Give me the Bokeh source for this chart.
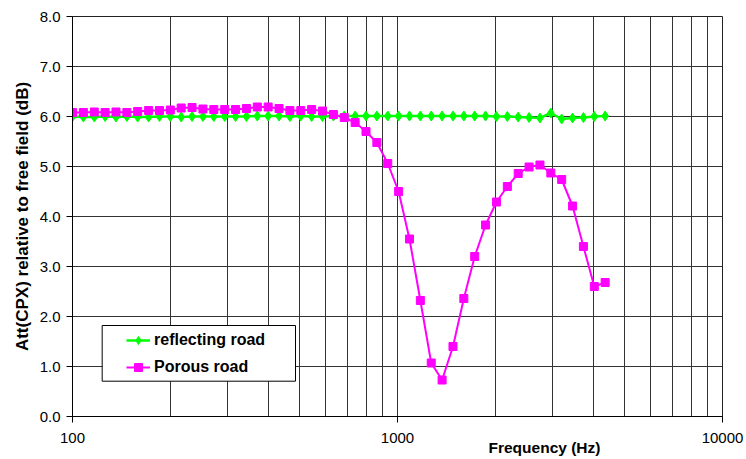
from bokeh.plotting import figure
from bokeh.models import (Range1d, FixedTicker, BasicTickFormatter, NumeralTickFormatter,
                          Legend, LegendItem, BoxAnnotation, Title)
from bokeh.embed import file_html
from bokeh.resources import INLINE

# --- data (1/9-octave frequencies) ---
freq = [100, 108, 116.7, 126, 136.1, 147, 158.7, 171.5, 185.2, 200,
        216, 233.3, 252, 272.2, 294, 317.5, 343, 370.4, 400, 432,
        466.6, 504, 544.3, 587.9, 635, 685.8, 740.8, 800, 864, 933.3,
        1008, 1088.7, 1175.9, 1270, 1371.7, 1481.6, 1600, 1728, 1866.4, 2016,
        2177.4, 2351.8, 2540.2, 2743.6, 2963.2, 3200, 3456.3, 3733, 4032, 4354.9]

reflecting = [6.00, 5.99, 5.99, 6.00, 5.99, 6.00, 5.99, 5.99, 6.00, 6.00,
              5.99, 6.00, 6.00, 6.00, 6.00, 6.00, 6.00, 6.01, 6.01, 6.01,
              6.00, 6.01, 6.00, 6.00, 6.01, 6.01, 6.01, 6.01, 6.01, 6.01,
              6.01, 6.01, 6.01, 6.01, 6.01, 6.01, 6.01, 6.01, 6.01, 6.00,
              6.00, 5.99, 5.98, 5.97, 6.07, 5.95, 5.97, 5.98, 6.00, 6.01]

porous = [6.08, 6.08, 6.09, 6.08, 6.09, 6.08, 6.10, 6.12, 6.12, 6.13,
          6.17, 6.18, 6.15, 6.14, 6.14, 6.14, 6.16, 6.19, 6.19, 6.16,
          6.12, 6.12, 6.14, 6.11, 6.04, 5.98, 5.88, 5.70, 5.48, 5.06,
          4.50, 3.55, 2.32, 1.07, 0.73, 1.40, 2.36, 3.20, 3.83, 4.29,
          4.60, 4.86, 4.99, 5.03, 4.87, 4.74, 4.21, 3.40, 2.60, 2.68]

x_major = [100, 1000, 10000]
x_minor = [200, 300, 400, 500, 600, 700, 800, 900,
           2000, 3000, 4000, 5000, 6000, 7000, 8000, 9000]
y_ticks = [0, 1, 2, 3, 4, 5, 6, 7, 8]

FONT = "Liberation Sans"

p = figure(width=746, height=459, x_axis_type="log",
           x_range=Range1d(100, 10000), y_range=Range1d(0, 8),
           output_backend="svg", toolbar_location=None)
p.min_border_left = 72
p.min_border_right = 24
p.min_border_top = 16
p.min_border_bottom = 43
p.background_fill_color = "white"
p.border_fill_color = "white"
p.outline_line_color = "#222222"
p.outline_line_width = 1

# axes
xa = p.xaxis[0]
xa.ticker = FixedTicker(ticks=x_major, minor_ticks=x_minor)
xa.formatter = BasicTickFormatter()
ya = p.yaxis[0]
ya.ticker = FixedTicker(ticks=y_ticks)
ya.formatter = NumeralTickFormatter(format="0.0")
for ax in (xa, ya):
    ax.axis_line_color = "black"
    ax.axis_line_width = 1
    ax.major_tick_line_color = "black"
    ax.major_tick_in = 0
    ax.major_tick_out = 6
    ax.minor_tick_line_color = None
    ax.major_label_text_font = FONT
    ax.major_label_text_font_size = "15px"
    ax.major_label_text_color = "black"
    ax.major_label_standoff = 6
xa.major_label_standoff = 10
ya.axis_label = "Att(CPX) relative to free field (dB)"
ya.axis_label_text_font = FONT
ya.axis_label_text_font_style = "bold"
ya.axis_label_text_font_size = "17px"
ya.axis_label_text_color = "black"
ya.axis_label_standoff = 5

# grids
p.xgrid.grid_line_color = "#333333"
p.xgrid.grid_line_width = 1
p.xgrid.minor_grid_line_color = "#333333"
p.xgrid.minor_grid_line_width = 1
p.ygrid.grid_line_color = "#333333"
p.ygrid.grid_line_width = 1

# series
g_line = p.line(freq, reflecting, line_color="#00FF00", line_width=2.5)
g_pts = p.scatter(freq, reflecting, marker="diamond", size=10,
                  fill_color="#00FF00", line_color="#00FF00")
m_line = p.line(freq, porous, line_color="#FF00FF", line_width=2)
m_pts = p.scatter(freq, porous, marker="square", size=8,
                  fill_color="#FF00FF", line_color="#FF00FF")

# x axis title (offset to the right as in the original)
title_kw = dict(text="Frequency (Hz)", align="left", offset=416,
                text_font=FONT, text_font_style="bold", text_font_size="15.5px",
                text_color="black")
if "standoff" in Title.properties():
    title_kw["standoff"] = -18
p.add_layout(Title(**title_kw), "below")

# legend frame
box = BoxAnnotation(left=123.4, right=485.5, bottom=0.706, top=1.82,
                    fill_color="white", fill_alpha=1.0,
                    line_color="black", line_width=1, line_alpha=1.0)
p.add_layout(box)

legend = Legend(items=[LegendItem(label="reflecting road", renderers=[g_line, g_pts]),
                       LegendItem(label="Porous road", renderers=[m_line, m_pts])],
                location=(54, 39), padding=0, margin=0, spacing=7,
                glyph_width=24, glyph_height=20, label_height=20, label_standoff=4,
                label_text_font=FONT, label_text_font_style="bold",
                label_text_font_size="16px", label_text_color="black",
                border_line_color=None, background_fill_alpha=0)
p.add_layout(legend)

open("out.html", "w").write(file_html(p, INLINE))
